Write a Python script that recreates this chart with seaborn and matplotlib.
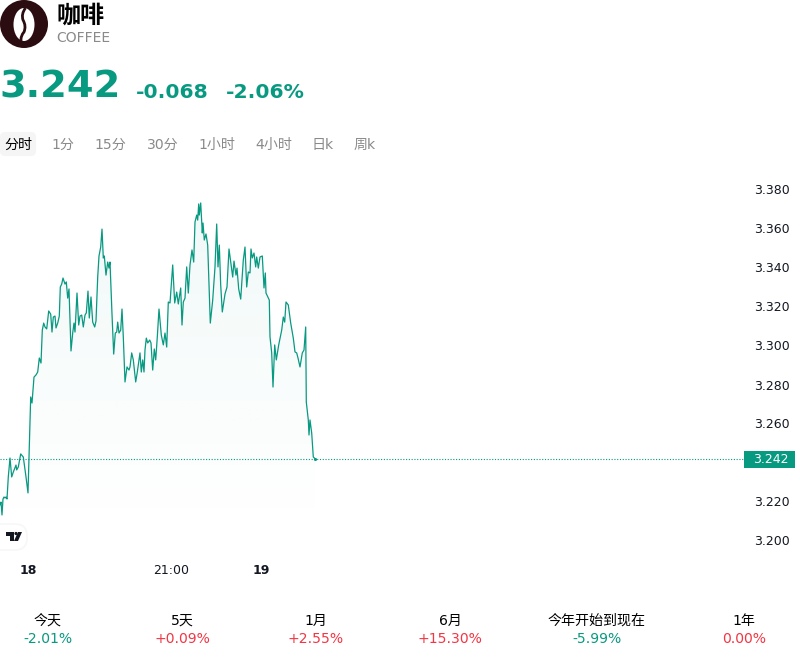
import numpy as np
import pandas as pd
import matplotlib.pyplot as plt
from matplotlib.patches import Circle, Ellipse, FancyBboxPatch, PathPatch, Rectangle, Polygon
from matplotlib.path import Path
import seaborn as sns

sns.set_theme(style="white")
plt.rcParams['font.family'] = ['DejaVu Sans', 'Noto Sans CJK SC']

GREEN = '#089981'
RED = '#f23645'
GRAY = '#8a8a8a'

#==data
bars = [0, 1, 2, 3, 4, 5, 6, 7, 8.3, 10, 11.7, 13.3, 16, 16.7, 18.3, 20.7, 23.3, 26, 28, 30.7, 32, 34, 36, 37.7, 39.3,
        41, 42.3, 43.7, 45, 46.7, 48.7, 50.7, 52, 53.3, 55, 56, 57.7, 59.3, 60.3, 61.7, 63, 65, 66.3, 67.7, 69, 71,
        72.7, 74, 75, 77, 78.7, 80, 81.7, 83.3, 85, 86.3, 88, 89.3, 91, 92.7, 94.7, 96, 97.7, 99, 100.7, 102, 103.3,
        104.3, 106, 107.7, 109, 110, 112, 113.7, 115.3, 116.7, 117.7, 119, 120.7, 122, 123.3, 125, 127, 129, 130,
        131.7, 133.3, 135.7, 137.3, 140, 141.3, 142.7, 144, 145, 146.3, 147.7, 149.7, 151, 152.7, 154.3, 155.7,
        157.3, 159, 161.3, 163.3, 165, 166.7, 168.3, 170, 172.7, 174.7, 176.7, 178.3, 180.7, 182, 183.3, 185, 186.7,
        188.3, 190, 192, 193.7, 195, 196.7, 197.7, 198.7, 199.3, 200.7, 202.3, 203, 204.3, 206, 207.7, 210.3, 212.7,
        215, 216.7, 218, 219.3, 220.7, 222.3, 225, 227, 229, 230.7, 232.7, 234, 236, 237, 238.7, 240.7, 243.3, 245,
        246.7, 248.3, 250, 251, 252.3, 254, 255.7, 256.7, 258.3, 260, 262.3, 264, 265.3, 266, 269.3, 270, 271.7, 273,
        274.7, 276.3, 278.7, 281.7, 283.3, 284.7, 286, 288.3, 290.7, 293.3, 295, 296.7, 298, 300, 302.3, 304, 305.7,
        306.3, 308.3, 309, 310, 311.7, 313.3, 315]
price = [3.2182, 3.2197, 3.2131, 3.2213, 3.2223, 3.2218, 3.2223, 3.2213, 3.2326, 3.2423, 3.2326, 3.2351, 3.2387, 3.2362,
         3.2377, 3.2444, 3.2428, 3.2326, 3.2244, 3.2736, 3.2705, 3.2838, 3.2849, 3.2864, 3.2936, 3.2910, 3.3079, 3.3115,
         3.3095, 3.3085, 3.3177, 3.3161, 3.3069, 3.3146, 3.3151, 3.3090, 3.3115, 3.3151, 3.3300, 3.3315, 3.3346, 3.3315,
         3.3326, 3.3243, 3.3290, 3.2972, 3.3064, 3.3115, 3.3069, 3.3269, 3.3105, 3.3151, 3.3156, 3.3095, 3.3156, 3.3167,
         3.3279, 3.3141, 3.3249, 3.3120, 3.3095, 3.3126, 3.3351, 3.3459, 3.3505, 3.3597, 3.3449, 3.3459, 3.3361, 3.3428,
         3.3397, 3.3428, 3.3161, 3.2956, 3.3064, 3.3069, 3.3120, 3.3064, 3.3079, 3.3187, 3.3044, 3.2813, 3.2890, 3.2874,
         3.2890, 3.2962, 3.2926, 3.2813, 3.2864, 3.2962, 3.2864, 3.2926, 3.2864, 3.2977, 3.3038, 3.3013, 3.3028, 3.3013,
         3.2874, 3.2982, 3.2926, 3.3044, 3.3187, 3.3054, 3.3003, 3.3064, 3.2992, 3.3223, 3.3218, 3.3413, 3.3218, 3.3274,
         3.3213, 3.3295, 3.3105, 3.3223, 3.3243, 3.3403, 3.3269, 3.3413, 3.3490, 3.3428, 3.3633, 3.3669, 3.3643, 3.3726,
         3.3669, 3.3731, 3.3577, 3.3628, 3.3541, 3.3572, 3.3515, 3.3115, 3.3233, 3.3403, 3.3623, 3.3403, 3.3515, 3.3310,
         3.3172, 3.3264, 3.3300, 3.3495, 3.3428, 3.3351, 3.3433, 3.3361, 3.3397, 3.3290, 3.3238, 3.3438, 3.3505, 3.3300,
         3.3377, 3.3372, 3.3495, 3.3449, 3.3474, 3.3403, 3.3454, 3.3397, 3.3454, 3.3459, 3.3295, 3.3372, 3.3269, 3.3233,
         3.3044, 3.2962, 3.2787, 3.3003, 3.2926, 3.3003, 3.3079, 3.3146, 3.3120, 3.3223, 3.3208, 3.3115, 3.3038, 3.2967,
         3.2962, 3.2936, 3.2890, 3.2962, 3.2977, 3.3095, 3.2710, 3.2618, 3.2541, 3.2618, 3.2551, 3.2428, 3.2420]
last_price = 3.242
y_ticks = [3.20, 3.22, 3.26, 3.28, 3.30, 3.32, 3.34, 3.36, 3.38]  # 3.24 sits under the price tag
x_ticks = [28.5, 171, 261]
x_labels = ['18', '21:00', '19']
tabs = ['分时', '1分', '15分', '30分', '1小时', '4小时', '日k', '周k']
tab_x = [18, 63, 110.5, 163, 216.5, 273.5, 323, 365]
periods = ['今天', '5天', '1月', '6月', '今年开始到现在', '1年']
period_changes = ['-2.01%', '+0.09%', '+2.55%', '+15.30%', '-5.99%', '0.00%']
period_x = [48, 182, 316, 450, 597, 744]

df = pd.DataFrame({'bar': bars, 'price': price})

fig = plt.figure(figsize=(8, 6.58), dpi=100, facecolor='white')

#==main chart, 744px wide, from y=170 to y=555
ax = fig.add_axes([0, 1 - 555 / 658, 744 / 800, 385 / 658])

rgba = np.zeros((256, 1, 4))
rgba[..., :3] = (8 / 255, 153 / 255, 129 / 255)
rgba[:, 0, 3] = np.linspace(0.06, 0, 256)
g_bottom = 3.38 - (530 - 189.5) / 1950
im = ax.imshow(rgba, extent=(0, 315, g_bottom, max(price)), aspect='auto', origin='upper', zorder=1)
clip = Polygon(list(zip(bars, price)) + [(315, g_bottom), (0, g_bottom)], closed=True, transform=ax.transData)
im.set_clip_path(clip)
ax.set_xlim(0, 744)
ax.set_ylim(3.38 - (555 - 189.5) / 1950, 3.38 + (189.5 - 170) / 1950)

sns.lineplot(data=df, x='bar', y='price', color=GREEN, lw=0.9, ax=ax, zorder=3, legend=False)
ax.axhline(last_price, color=GREEN, lw=0.8, ls=(0, (1, 1.5)), zorder=2)
ax.scatter([bars[-1]], [price[-1]], s=5, color=GREEN, zorder=4, linewidths=0)

ax.set_xlabel('')
ax.set_ylabel('')
sns.despine(ax=ax, left=True, bottom=True, right=True, top=True)
ax.yaxis.tick_right()
ax.set_yticks(y_ticks)
ax.set_yticklabels(['%.3f' % v for v in y_ticks])
ax.set_xticks(x_ticks)
ax.set_xticklabels(x_labels)
ax.tick_params(axis='y', length=0, pad=7, labelsize=9, labelcolor='#131722')
ax.tick_params(axis='x', length=0, pad=6.6, labelsize=9, labelcolor='#131722')
for t in ax.get_xticklabels():
    if t.get_text() != '21:00':
        t.set_fontweight('bold')

#==everything outside the plot, in pixel coords
ov = fig.add_axes([0, 0, 1, 1], zorder=5)
ov.set_xlim(0, 800)
ov.set_ylim(658, 0)
ov.axis('off')
ov.patch.set_alpha(0)

# logo
ov.add_patch(Circle((24, 24), 24, color='#2b0c10', lw=0))
ov.add_patch(Ellipse((24, 24.5), 21, 33, color='white', lw=0))
s = Path([(25.5, 8), (21, 14), (23, 20), (26.5, 26), (24, 32), (20.5, 36), (21, 41)],
         [Path.MOVETO] + [Path.CURVE3] * 6)
ov.add_patch(PathPatch(s, fc='none', ec='#2b0c10', lw=2.0))

ov.text(56, 16, '咖啡', fontsize=17.3, fontweight='bold', color='black', va='center', ha='left')
ov.text(56, 38.5, 'COFFEE', fontsize=10, color=GRAY, va='center', ha='left')
ov.text(-1, 88, '3.242', fontsize=27.6, fontweight='bold', color=GREEN, va='center', ha='left')
ov.text(136, 93, '-0.068', fontsize=14.6, fontweight='bold', color=GREEN, va='center', ha='left')
ov.text(226, 93, '-2.06%', fontsize=14.6, fontweight='bold', color=GREEN, va='center', ha='left')

ov.add_patch(FancyBboxPatch((2, 134), 32, 20, boxstyle='round,pad=0,rounding_size=3', fc='#f5f5f5', ec='#f5f5f5', lw=3))
for i in range(len(tabs)):
    c = 'black' if i == 0 else GRAY
    ov.text(tab_x[i], 145, tabs[i], fontsize=10.1, color=c, va='center', ha='center')

# last price tag
ov.add_patch(Rectangle((744, 451), 51, 17, fc=GREEN, lw=0))
ov.text(771, 459.5, '%.3f' % last_price, fontsize=9, color='white', va='center', ha='center')

# tradingview badge
ov.add_patch(FancyBboxPatch((-14, 524), 41, 26, boxstyle='round,pad=0,rounding_size=12', fc='white', ec='#f7f7f7', lw=1.2))
ov.add_patch(Polygon([(6, 532), (13.5, 532), (13.5, 541), (10, 541), (10, 535.5), (6, 535.5)], fc='#131722', lw=0))
ov.add_patch(Circle((16, 533.5), 1.6, color='#131722', lw=0))
ov.add_patch(Polygon([(18, 532), (22, 532), (18, 541), (14, 541)], fc='#131722', lw=0))

# period row
for i in range(len(periods)):
    c = GREEN if period_changes[i].startswith('-') else RED
    ov.text(period_x[i], 621, periods[i], fontsize=10.1, color='black', va='center', ha='center')
    ov.text(period_x[i], 639, period_changes[i], fontsize=10.1, color=c, va='center', ha='center')

fig.savefig('out.png', dpi=100)
